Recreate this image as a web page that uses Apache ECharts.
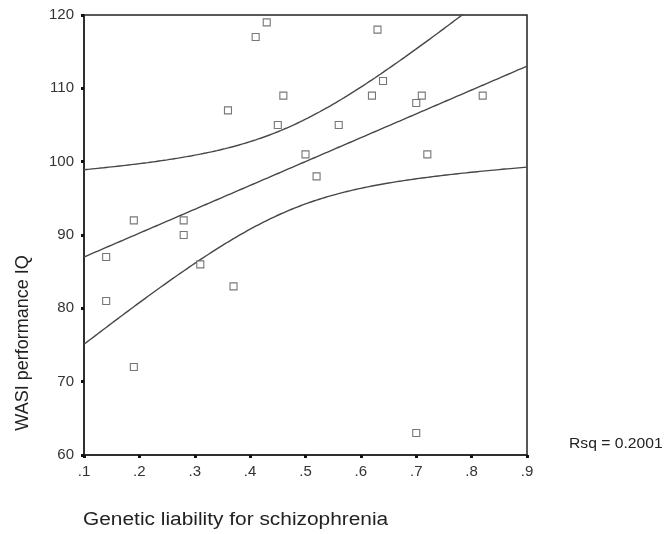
<!DOCTYPE html>
<html>
<head>
<meta charset="utf-8">
<script src="https://cdn.jsdelivr.net/npm/echarts@6/dist/echarts.min.js"></script>
<style>
  html, body { margin: 0; padding: 0; background: #fff; }
  #chart { width: 665px; height: 534px; }
</style>
</head>
<body>
<div id="chart"></div>
<script>
// Genetic liability for schizophrenia (x) and WASI performance IQ (y), one entry per participant
const liability = [0.43, 0.41, 0.36, 0.46, 0.45, 0.63, 0.64, 0.62, 0.71, 0.70, 0.82, 0.56,
                   0.50, 0.72, 0.52, 0.19, 0.28, 0.28, 0.14, 0.14, 0.31, 0.37, 0.19, 0.70];
const perfIQ    = [119, 117, 107, 109, 105, 118, 111, 109, 109, 108, 109, 105,
                   101, 101, 98, 92, 92, 90, 87, 81, 86, 83, 72, 63];

// Axis ranges and tick spacing
const xRange = [0.1, 0.9];
const xStep = 0.1;
const yRange = [60, 120];
const yStep = 10;

// Text
const xTitle = 'Genetic liability for schizophrenia';
const yTitle = 'WASI performance IQ';
const rsqText = 'Rsq = 0.2001';

// Two-sided 95% t quantile for n - 2 = 22 degrees of freedom
const T_95_DF22 = 2.074;

// Least-squares fit with a 95% confidence band for the mean
const n = liability.length;
const mx = liability.reduce((a, b) => a + b, 0) / n;
const my = perfIQ.reduce((a, b) => a + b, 0) / n;
let sxx = 0, sxy = 0;
for (let i = 0; i < n; i++) {
  sxx += (liability[i] - mx) ** 2;
  sxy += (liability[i] - mx) * (perfIQ[i] - my);
}
const slope = sxy / sxx;
const intercept = my - slope * mx;
let sse = 0;
for (let i = 0; i < n; i++) {
  sse += (perfIQ[i] - (intercept + slope * liability[i])) ** 2;
}
const se = Math.sqrt(sse / (n - 2));

const fitLine = [], upperBand = [], lowerBand = [];
const samples = 160;
for (let k = 0; k <= samples; k++) {
  const x = xRange[0] + (xRange[1] - xRange[0]) * k / samples;
  const yhat = intercept + slope * x;
  const half = T_95_DF22 * se * Math.sqrt(1 / n + (x - mx) ** 2 / sxx);
  fitLine.push([x, yhat]);
  upperBand.push([x, yhat + half]);
  lowerBand.push([x, yhat - half]);
}

const points = liability.map((x, i) => [x, perfIQ[i]]);

const FONT = 'Liberation Sans, Arial, sans-serif';
const INK = '#222';
const CURVE = '#474747';

const chart = echarts.init(document.getElementById('chart'), null, { renderer: 'canvas' });

const curveSeries = (data) => ({
  type: 'line',
  data: data,
  showSymbol: false,
  symbol: 'none',
  clip: true,
  silent: true,
  lineStyle: { color: CURVE, width: 1.4 },
  z: 2
});

chart.setOption({
  animation: false,
  backgroundColor: '#fff',
  grid: {
    left: 84, right: 138, top: 15, bottom: 79,
    show: true, borderColor: INK, borderWidth: 1.5, backgroundColor: 'transparent'
  },
  xAxis: {
    type: 'value',
    min: xRange[0], max: xRange[1], interval: xStep,
    axisLine: { show: true, lineStyle: { color: INK, width: 1.5 } },
    axisTick: { show: true, length: 3, lineStyle: { color: '#111', width: 3 } },
    splitLine: { show: false },
    axisLabel: {
      margin: 9, fontSize: 15, color: '#333', fontFamily: FONT,
      formatter: (v) => v.toFixed(1).replace(/^0/, '')
    }
  },
  yAxis: {
    type: 'value',
    min: yRange[0], max: yRange[1], interval: yStep,
    axisLine: { show: true, lineStyle: { color: INK, width: 1.5 } },
    axisTick: { show: true, length: 3, lineStyle: { color: '#111', width: 3 } },
    splitLine: { show: false },
    axisLabel: { margin: 10, fontSize: 15, color: '#333', fontFamily: FONT }
  },
  series: [
    curveSeries(upperBand),
    curveSeries(fitLine),
    curveSeries(lowerBand),
    {
      type: 'scatter',
      data: points,
      symbol: 'rect',
      symbolSize: 7,
      itemStyle: { color: '#fff', borderColor: '#555', borderWidth: 1.1 },
      z: 3
    }
  ],
  graphic: [
    {
      type: 'text', x: 83, y: 520, scaleX: 1.16,
      style: { text: xTitle, font: '18px ' + FONT, fill: INK, textAlign: 'left', textVerticalAlign: 'middle' }
    },
    {
      type: 'text', x: 23, y: 343, rotation: Math.PI / 2,
      style: { text: yTitle, font: '18px ' + FONT, fill: INK, textAlign: 'center', textVerticalAlign: 'middle' }
    },
    {
      type: 'text', x: 569, y: 444, scaleX: 1.12,
      style: { text: rsqText, font: '14px ' + FONT, fill: INK, textAlign: 'left', textVerticalAlign: 'middle' }
    }
  ]
});
</script>
</body>
</html>
